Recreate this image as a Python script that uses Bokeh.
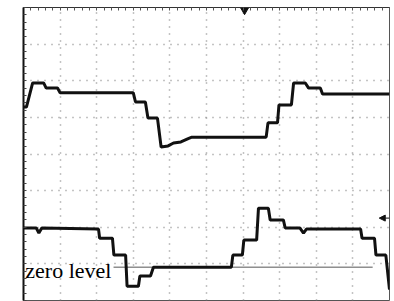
import numpy as np
from bokeh.plotting import figure
from bokeh.models import Range1d, LinearAxis, FixedTicker, Arrow, NormalHead, Grid, BoxAnnotation
from bokeh.core.properties import value
from bokeh.embed import file_html
from bokeh.resources import INLINE

# Oscilloscope traces (x in divisions 0..10, y in divisions -4..4)
top_x = [0, 0.08, 0.25, 0.55, 0.62, 0.93, 1.0, 3.0, 3.06, 3.33, 3.40, 3.66, 3.76, 3.95, 4.1, 4.3, 4.5, 4.6,
         6.63, 6.68, 6.94, 6.98, 7.32, 7.38, 7.70, 7.79, 8.11, 8.17, 10]
top_y = [1.28, 1.28, 1.94, 1.94, 1.80, 1.80, 1.67, 1.67, 1.42, 1.42, 0.98, 0.98, 0.19, 0.22, 0.30, 0.33, 0.42, 0.46,
         0.46, 0.85, 0.85, 1.34, 1.34, 1.94, 1.94, 1.80, 1.80, 1.64, 1.64]

bot_x = [0, 0.35, 0.42, 0.50, 2.05, 2.08, 2.43, 2.47, 2.79, 2.83, 3.14, 3.18, 3.47, 3.55, 5.68, 5.72, 5.98,
         6.02, 6.37, 6.42, 6.69, 6.74, 7.10, 7.15, 7.55, 7.65, 7.73, 9.21, 9.25, 9.59, 9.63, 9.90, 10]
bot_y = [-2.02, -2.02, -2.16, -2.02, -2.05, -2.30, -2.30, -2.76, -2.76, -3.61, -3.61, -3.33, -3.33, -3.09, -3.09,
         -2.76, -2.76, -2.35, -2.35, -1.48, -1.48, -1.80, -1.80, -2.02, -2.02, -2.16, -2.05, -2.05, -2.30, -2.30,
         -2.76, -2.76, -3.70]

zero_level = -3.09
zero_x = [2.46, 9.54]
label_text = "zero level"
trigger_x = 6.04
ref_arrow_y = -1.75

p = figure(width=394, height=301, x_range=Range1d(0, 10), y_range=Range1d(-4, 4),
           output_backend="svg", toolbar_location=None,
           x_axis_location=None, y_axis_location=None,
           min_border_left=23, min_border_right=5, min_border_top=7, min_border_bottom=1)
p.grid.visible = False
p.outline_line_color = "#555555"
p.outline_line_width = 1
p.background_fill_color = "white"
p.border_fill_color = "white"

minor = list(np.round(np.arange(0, 10.01, 0.2), 2))
minor_y = list(np.round(np.arange(-4, 4.01, 0.2), 2))

top_ax = LinearAxis(ticker=FixedTicker(ticks=[], minor_ticks=minor),
                    major_tick_in=0, major_tick_out=0, minor_tick_in=3, minor_tick_out=0,
                    axis_line_color="#333333", minor_tick_line_color="#555555")
p.add_layout(top_ax, "above")
left_ax = LinearAxis(ticker=FixedTicker(ticks=[], minor_ticks=minor_y),
                     major_tick_in=0, major_tick_out=0, minor_tick_in=3, minor_tick_out=0,
                     axis_line_color="#111111", axis_line_width=2, minor_tick_line_color="#444444")
p.add_layout(left_ax, "left")

gx = Grid(dimension=0, ticker=FixedTicker(ticks=list(range(1, 10))),
          grid_line_color="#888888", grid_line_dash="1 6", grid_line_width=1.5)
gy = Grid(dimension=1, ticker=FixedTicker(ticks=list(range(-3, 4))),
          grid_line_color="#888888", grid_line_dash="1 6", grid_line_width=1.5)
p.add_layout(gx)
p.add_layout(gy)

p.line(zero_x, [zero_level, zero_level], line_color="#555555", line_width=1)
p.line(top_x, top_y, line_color="#111111", line_width=3)
p.line(bot_x, bot_y, line_color="#111111", line_width=3)

p.text(x=[0.05], y=[-3.17], text=[label_text], text_font=value("Liberation Serif"),
       text_font_size="22px", text_color="black", text_baseline="alphabetic", text_align="left")

p.scatter(x=[trigger_x], y=[3.93], marker="inverted_triangle", size=8, color="#111111")
p.add_layout(Arrow(end=NormalHead(size=6, fill_color="#111111", line_color="#111111"),
                   x_start=10, y_start=ref_arrow_y, x_end=9.72, y_end=ref_arrow_y,
                   line_color="#111111", line_width=1))

p.add_layout(BoxAnnotation(left=-0.31, right=0, bottom=-4.1, top=-3.85,
                           fill_color="black", fill_alpha=1, line_color="black"))

open("out.html", "w").write(file_html(p, INLINE))
